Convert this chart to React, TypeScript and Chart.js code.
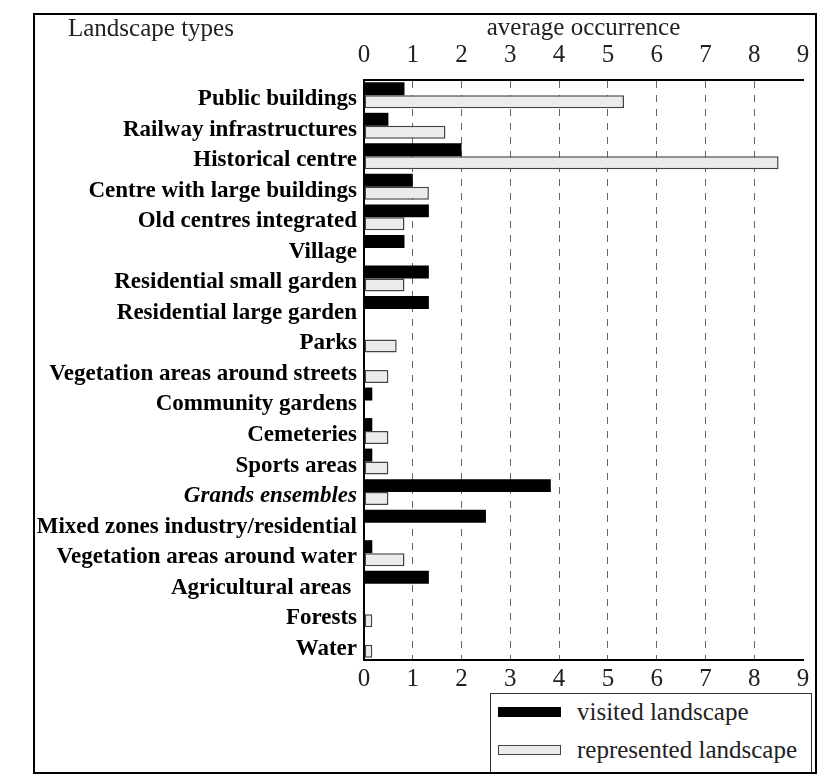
import { Chart, registerables } from 'chart.js';
import { useEffect, useRef } from 'react';

Chart.register(...registerables);

const categories = [
    'Public buildings',
    'Railway infrastructures',
    'Historical centre',
    'Centre with large buildings',
    'Old centres integrated',
    'Village',
    'Residential small garden',
    'Residential large garden',
    'Parks',
    'Vegetation areas around streets',
    'Community gardens',
    'Cemeteries',
    'Sports areas',
    'Grands ensembles',
    'Mixed zones industry/residential',
    'Vegetation areas around water',
    'Agricultural areas ',
    'Forests',
    'Water',
];
const italicCategories = ['Grands ensembles'];

const visited = [0.83, 0.5, 2, 1, 1.33, 0.83, 1.33, 1.33, 0, 0, 0.17, 0.17, 0.17, 3.83, 2.5, 0.17, 1.33, 0, 0];
const represented = [5.33, 1.67, 8.5, 1.33, 0.83, 0, 0.83, 0, 0.67, 0.5, 0, 0.5, 0.5, 0.5, 0, 0.83, 0, 0.17, 0.17];

const seriesNames = ['visited landscape', 'represented landscape'];
const axisMin = 0;
const axisMax = 9;

const serif = '"Liberation Serif", "Times New Roman", serif';

const BarChart = () => {
    const canvasRef = useRef<HTMLCanvasElement>(null);

    useEffect(() => {
        const canvas = canvasRef.current;
        if (!canvas) return;
        const ctx = canvas.getContext('2d');
        if (!ctx) return;

        const chart = new Chart(ctx, {
            type: 'bar',
            data: {
                labels: categories,
                datasets: [
                    {
                        label: seriesNames[0],
                        data: visited,
                        backgroundColor: '#000',
                        borderColor: '#000',
                        borderWidth: 0,
                        xAxisID: 'x',
                        yAxisID: 'y',
                    },
                    {
                        label: seriesNames[1],
                        data: represented,
                        backgroundColor: '#ebebeb',
                        borderColor: '#444',
                        borderWidth: 1.5,
                        borderSkipped: false,
                        xAxisID: 'x',
                        yAxisID: 'y',
                    },
                ],
            },
            options: {
                indexAxis: 'y',
                responsive: true,
                maintainAspectRatio: false,
                animation: false,
                categoryPercentage: 0.85,
                barPercentage: 1,
                layout: { padding: { left: 0, right: 21, top: 0, bottom: 77 } },
                plugins: {
                    legend: { display: false },
                    tooltip: { enabled: false },
                },
                scales: {
                    x: {
                        position: 'top',
                        min: axisMin,
                        max: axisMax,
                        ticks: {
                            stepSize: 1,
                            color: '#222',
                            padding: 10,
                            font: { family: serif, size: 25 },
                        },
                        grid: {
                            drawTicks: false,
                            lineWidth: 1,
                            color: (c: any) =>
                                c.tick && (c.tick.value === axisMin || c.tick.value === axisMax)
                                    ? 'rgba(0,0,0,0)'
                                    : '#666',
                        },
                        border: { display: true, color: '#000', width: 2, dash: [7, 7] },
                        title: {
                            display: true,
                            text: 'average occurrence',
                            color: '#222',
                            padding: { top: 5, bottom: 0 },
                            font: { family: serif, size: 25 },
                        },
                        afterFit: (scale: any) => {
                            scale.height = 72;
                        },
                    },
                    x2: {
                        position: 'bottom',
                        min: axisMin,
                        max: axisMax,
                        ticks: {
                            stepSize: 1,
                            color: '#222',
                            padding: 4,
                            font: { family: serif, size: 25 },
                        },
                        grid: { display: false, drawTicks: false },
                        border: { display: true, color: '#000', width: 2 },
                        afterFit: (scale: any) => {
                            scale.height = 40;
                        },
                    },
                    y: {
                        position: 'left',
                        ticks: {
                            color: '#000',
                            padding: 7,
                            labelOffset: 4,
                            autoSkip: false,
                            font: (c: any) => ({
                                family: serif,
                                size: 23,
                                weight: 'bold',
                                style: italicCategories.includes(categories[c.index]) ? 'italic' : 'normal',
                            }),
                        },
                        grid: { display: false, drawTicks: false },
                        border: { display: true, color: '#000', width: 2 },
                        afterFit: (scale: any) => {
                            scale.width = 356;
                        },
                    },
                },
            },
        });

        return () => {
            chart.destroy();
        };
    }, []);

    return <canvas ref={canvasRef} />;
};

const swatchStyles = [
    { background: '#000', border: '1px solid #000' },
    { background: '#ebebeb', border: '1.5px solid #444' },
];

export default function App() {
    return (
        <div style={{ position: 'relative', width: 816, height: 769, fontFamily: serif }}>
            <div style={{ position: 'absolute', left: 0, top: 0, width: 816, height: 769 }}>
                <BarChart />
            </div>
            <div
                style={{
                    position: 'absolute',
                    left: 60,
                    top: 5,
                    fontSize: 25,
                    lineHeight: '30px',
                    color: '#222',
                }}
            >
                Landscape types
            </div>
            <div
                style={{
                    position: 'absolute',
                    left: 482,
                    top: 685,
                    width: 322,
                    height: 81,
                    boxSizing: 'border-box',
                    border: '1.5px solid #333',
                    background: '#fff',
                }}
            >
                {seriesNames.map((name, i) => (
                    <div
                        key={name}
                        style={{
                            position: 'absolute',
                            left: 7,
                            top: 3 + i * 38,
                            height: 30,
                            display: 'flex',
                            alignItems: 'center',
                            fontSize: 25,
                            color: '#222',
                            whiteSpace: 'nowrap',
                        }}
                    >
                        <span
                            style={{
                                display: 'inline-block',
                                width: 63,
                                height: 10,
                                boxSizing: 'border-box',
                                marginRight: 16,
                                ...swatchStyles[i],
                            }}
                        />
                        {name}
                    </div>
                ))}
            </div>
            <div
                style={{
                    position: 'absolute',
                    left: 25,
                    top: 5,
                    width: 784,
                    height: 761,
                    boxSizing: 'border-box',
                    border: '2px solid #000',
                    pointerEvents: 'none',
                }}
            />
        </div>
    );
}
